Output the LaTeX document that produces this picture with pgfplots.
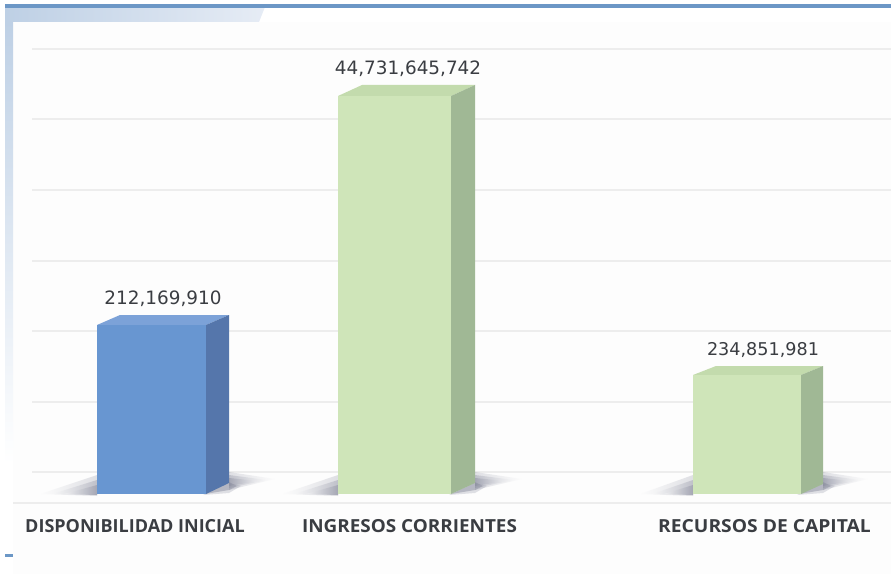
\documentclass[border=0pt]{standalone}
\usepackage{fontspec}
\setmainfont{Open Sans}
\newfontfamily\labfont{DejaVu Sans}
\usepackage{graphicx}
\usepackage{pgfplots}
\pgfplotsset{compat=1.18}
\definecolor{bluefront}{HTML}{6896D1}
\definecolor{blueside}{HTML}{5576AB}
\definecolor{bluetop}{HTML}{7CA2D8}
\definecolor{greenfront}{HTML}{CFE5B9}
\definecolor{greenside}{HTML}{A0B895}
\definecolor{greentop}{HTML}{C3DBAD}
\definecolor{gridc}{HTML}{EDEDED}
\definecolor{panel}{HTML}{FDFDFD}
\definecolor{bandL}{HTML}{BED0E5}
\definecolor{bandR}{HTML}{E6ECF5}
\definecolor{topbar}{HTML}{6C97C6}
\definecolor{shadowc}{HTML}{85889A}
\definecolor{txt}{HTML}{3A3D42}
\pgfplotsset{face/.style={draw=none,no markers,forget plot}}
\newcommand{\leftshadow}[2]{%
  \addplot[face,fill opacity=.25,left color=panel,right color=shadowc] coordinates {(#1,80) (#2,78) (#2,99)} --cycle;
  \addplot[face,fill opacity=.35,left color=panel,right color=shadowc] coordinates {(#1+12,80) (#2,79) (#2,94)} --cycle;
  \addplot[face,fill opacity=.45,left color=panel,right color=shadowc] coordinates {(#1+24,80) (#2,79) (#2,89)} --cycle;
}
\newcommand{\rightshadow}[2]{%
  \addplot[face,fill=shadowc,fill opacity=.45] coordinates {(#1-24,80) (#1,92) (#1+8,88) (#1,84)} --cycle;
  \addplot[face,fill=shadowc,fill opacity=.25] coordinates {(#1-26,79) (#1,91) (#1+12,88) (#1,81)} --cycle;
  \addplot[face,fill opacity=.25,left color=shadowc,right color=panel] coordinates {(#1,84) (#1,102) (#2,95)} --cycle;
  \addplot[face,fill opacity=.35,left color=shadowc,right color=panel] coordinates {(#1,86) (#1,99) (#2-8,94)} --cycle;
  \addplot[face,fill opacity=.45,left color=shadowc,right color=panel] coordinates {(#1,88) (#1,96) (#2-16,93)} --cycle;
}
\begin{document}
\begin{tikzpicture}
\begin{axis}[
  scale only axis, width=891pt, height=574pt,
  xmin=0, xmax=891, ymin=0, ymax=574,
  axis line style={draw=none}, tick style={draw=none},
  xtick=\empty, ytick=\empty, clip=true,
]
% frame (y = 574 - pixel row)
\addplot[face,fill=panel] coordinates {(13,552) (891,552) (891,0) (13,0)} --cycle;
\addplot[face,left color=bandL,right color=bandR] coordinates {(5,567) (265,567) (259,552) (5,552)} --cycle;
\addplot[face,top color=bandL,bottom color=white] coordinates {(5,552) (13,552) (13,110) (5,110)} --cycle;
\addplot[face,fill=topbar] coordinates {(5,570) (891,570) (891,566) (5,566)} --cycle;
\addplot[face,fill=topbar] coordinates {(5,20) (13,20) (13,17.5) (5,17.5)} --cycle;
% gridlines
\addplot[gridc,line width=1.1pt,no markers,forget plot] coordinates {(32,525) (891,525)};
\addplot[gridc,line width=1.1pt,no markers,forget plot] coordinates {(32,455) (891,455)};
\addplot[gridc,line width=1.1pt,no markers,forget plot] coordinates {(32,384) (891,384)};
\addplot[gridc,line width=1.1pt,no markers,forget plot] coordinates {(32,313) (891,313)};
\addplot[gridc,line width=1.1pt,no markers,forget plot] coordinates {(32,243) (891,243)};
\addplot[gridc,line width=1.1pt,no markers,forget plot] coordinates {(32,172) (891,172)};
\addplot[gridc,line width=1.1pt,no markers,forget plot] coordinates {(32,102) (891,102)};
\addplot[gridc,line width=1.1pt,no markers,forget plot] coordinates {(13,71) (891,71)};
% shadows
\leftshadow{40}{97}
\rightshadow{229}{275}
\leftshadow{282}{338}
\rightshadow{475}{522}
\leftshadow{640}{693}
\rightshadow{823}{868}
% DISPONIBILIDAD INICIAL
\addplot[face,fill=bluetop] coordinates {(97,249) (206,249) (229,259) (120,259)} --cycle;
\addplot[face,fill=blueside] coordinates {(206,80) (229,91) (229,259) (206,249)} --cycle;
\addplot[face,fill=bluefront] coordinates {(97,80) (206,80) (206,249) (97,249)} --cycle;
% INGRESOS CORRIENTES
\addplot[face,fill=greentop] coordinates {(338,478) (451,478) (475,489) (362,489)} --cycle;
\addplot[face,fill=greenside] coordinates {(451,80) (475,91) (475,489) (451,478)} --cycle;
\addplot[face,fill=greenfront] coordinates {(338,80) (451,80) (451,478) (338,478)} --cycle;
% RECURSOS DE CAPITAL
\addplot[face,fill=greentop] coordinates {(693,199) (801,199) (823,208) (716,208)} --cycle;
\addplot[face,fill=greenside] coordinates {(801,80) (823,90) (823,208) (801,199)} --cycle;
\addplot[face,fill=greenfront] coordinates {(693,80) (801,80) (801,199) (693,199)} --cycle;
% texts
\node[text=txt,font=\labfont\fontsize{18.4}{18}\selectfont] at (axis cs:163,275) {212,169,910};
\node[text=txt,font=\labfont\fontsize{18.4}{18}\selectfont] at (axis cs:408,505.5) {44,731,645,742};
\node[text=txt,font=\labfont\fontsize{17.6}{18}\selectfont] at (axis cs:763,224) {234,851,981};
\node[text=txt,font=\bfseries\fontsize{18}{18}\selectfont] at (axis cs:135,48) {DISPONIBILIDAD INICIAL};
\node[text=txt,font=\bfseries\fontsize{18}{18}\selectfont] at (axis cs:409.5,48) {\scalebox{1.05}[1]{INGRESOS CORRIENTES}};
\node[text=txt,font=\bfseries\fontsize{18}{18}\selectfont] at (axis cs:764.5,48) {\scalebox{1.07}[1]{RECURSOS DE CAPITAL}};
\end{axis}
\end{tikzpicture}
\end{document}
